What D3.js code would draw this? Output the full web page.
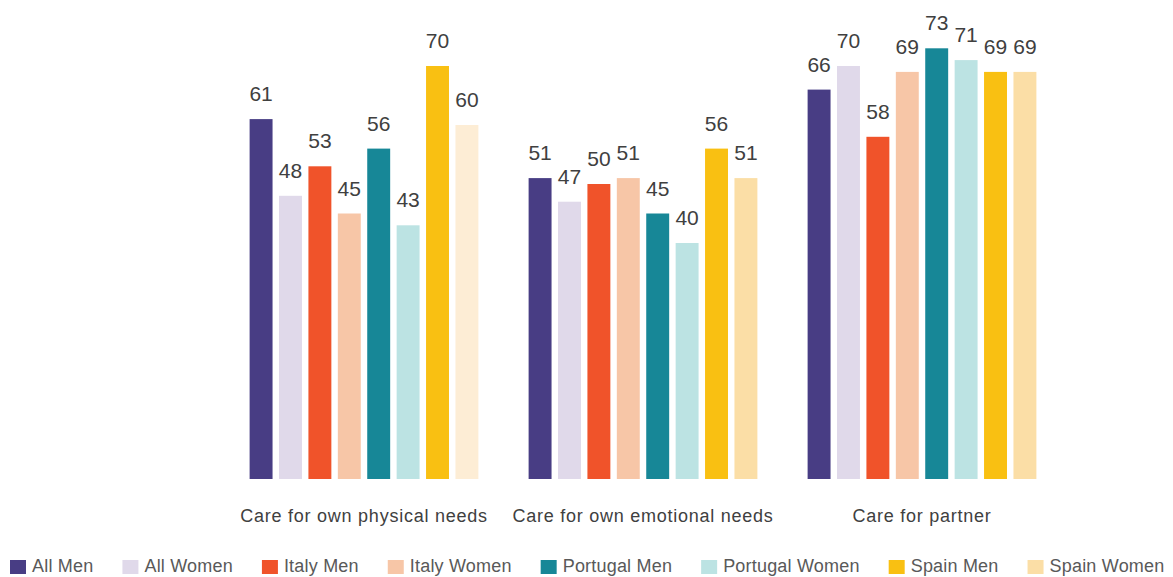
<!DOCTYPE html>
<html>
<head>
<meta charset="utf-8">
<script src="https://cdn.jsdelivr.net/npm/d3@7"></script>
<style>
  body { margin: 0; background: #fff; }
  svg { font-family: "Liberation Sans", Arial, sans-serif; }
</style>
</head>
<body>
<svg class="grouped" width="1173" height="577"></svg>
<script>
const categories = ["Care for own physical needs", "Care for own emotional needs", "Care for partner"];
const seriesNames = ["All Men", "All Women", "Italy Men", "Italy Women", "Portugal Men", "Portugal Women", "Spain Men", "Spain Women"];
const seriesColors = ["#483d84", "#e0d9ea", "#f0532a", "#f7c6a7", "#178797", "#bce3e3", "#f9c012", "#fbdea6"];
const allMen = [61, 51, 66];
const allWomen = [48, 47, 70];
const italyMen = [53, 50, 58];
const italyWomen = [45, 51, 69];
const portugalMen = [56, 45, 73];
const portugalWomen = [43, 40, 71];
const spainMen = [70, 56, 69];
const spainWomen = [60, 51, 69];

(function groupedBarIIFE(){
    let svg = d3.select("svg.grouped");
    let baseline = 479;

    let seriesValues = [allMen, allWomen, italyMen, italyWomen, portugalMen, portugalWomen, spainMen, spainWomen];

    // build rows for the bars
    let data = [];
    categories.forEach(function(c, ci) {
        seriesNames.forEach(function(s, si) {
            data.push({cat: c, series: s, ci: ci, si: si, value: seriesValues[si][ci]});
        });
    });

    // scales
    let x0 = d3.scaleBand().domain(categories).range([224.5, 1061.5]).paddingInner(0.18).paddingOuter(0.09);
    let x1 = d3.scaleBand().domain(seriesNames).range([0, x0.bandwidth()]).paddingInner(0.22).paddingOuter(0);
    let y = d3.scaleLinear().domain([0, 80]).range([baseline, baseline - 80 * 5.9]);

    // first group's Spain Women bar is paler in the original
    function fill(d) {
        if (d.si === 7 && d.ci === 0) return "#fdedd5";
        return seriesColors[d.si];
    }

    let g = svg.append("g");

    g.selectAll(".bar")
        .data(data)
        .enter()
        .append("rect")
        .attr("class", "bar")
        .attr("x", function(d) { return x0(d.cat) + x1(d.series); })
        .attr("y", function(d) { return y(d.value); })
        .attr("width", x1.bandwidth())
        .attr("height", function(d) { return y(0) - y(d.value); })
        .style("fill", fill);

    g.selectAll(".val")
        .data(data)
        .enter()
        .append("text")
        .attr("class", "val")
        .attr("x", function(d) { return x0(d.cat) + x1(d.series) + x1.bandwidth() / 2; })
        .attr("y", function(d) { return y(d.value) - 18; })
        .attr("text-anchor", "middle")
        .style("font-size", "21px")
        .style("fill", "#404040")
        .text(function(d) { return d.value; });

    // category axis labels
    let xAxis = d3.axisBottom(x0).tickSize(0).tickPadding(0);
    let ax = g.append("g")
        .attr("class", "x-axis")
        .attr("transform", "translate(0," + baseline + ")")
        .call(xAxis);
    ax.select(".domain").remove();
    ax.selectAll("text")
        .attr("y", 43)
        .attr("dy", 0)
        .style("font-family", "'Liberation Sans', Arial, sans-serif")
        .style("font-size", "18px")
        .style("letter-spacing", "0.75px")
        .style("fill", "#404040");

    // legend
    let legend = svg.append("g").attr("class", "legend");
    let lx = 10;
    seriesNames.forEach(function(s, i) {
        let item = legend.append("g").attr("transform", "translate(" + lx + ",0)");
        item.append("rect")
            .attr("x", 0)
            .attr("y", 560)
            .attr("width", 16)
            .attr("height", 14)
            .style("fill", seriesColors[i]);
        let t = item.append("text")
            .attr("x", 22)
            .attr("y", 572)
            .style("font-size", "18px")
            .style("letter-spacing", "0.2px")
            .style("fill", "#595959")
            .text(s);
        lx += 22 + t.node().getComputedTextLength() + 29;
    });
})();
</script>
</body>
</html>
